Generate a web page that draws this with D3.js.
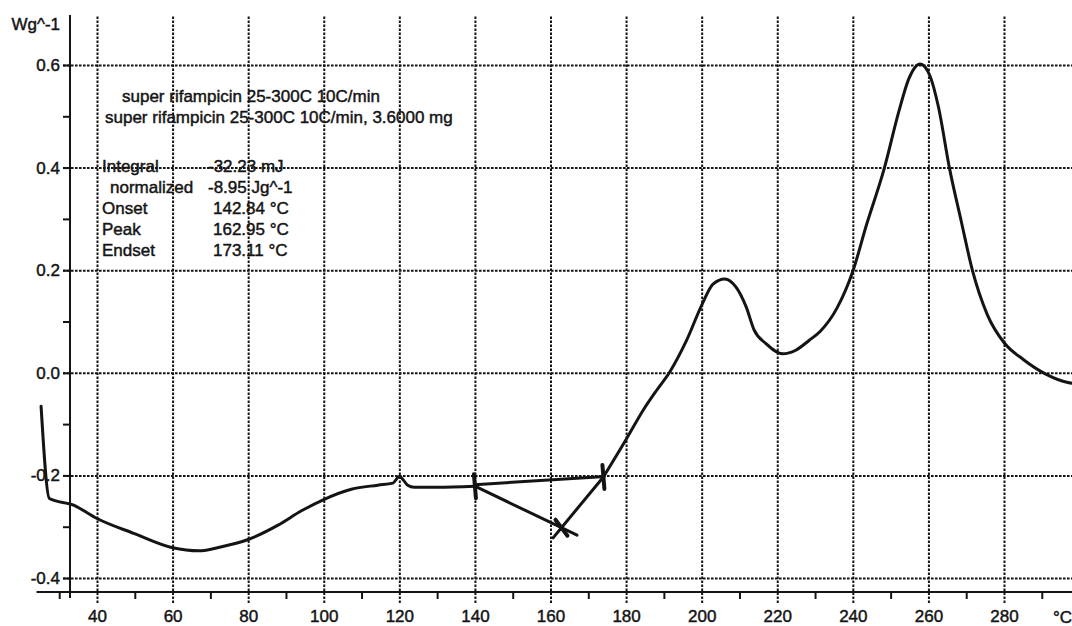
<!DOCTYPE html>
<html>
<head>
<meta charset="utf-8">
<script src="https://cdn.jsdelivr.net/npm/d3@7"></script>
<style>
  html, body { margin: 0; padding: 0; background: #fff; }
  svg { display: block; font-family: "Liberation Sans", Arial, sans-serif; }
</style>
</head>
<body>
<div id="chart"></div>
<script>
// DSC trace (temperature in °C, heat flow in W/g)
const curveT = [25.2, 27.4, 33.8, 40, 49.7, 60, 66.9, 73, 80, 87.9, 94.1, 100, 107.3, 114.3, 118.3, 120, 122.2, 123.9, 130,
  140, 162.9, 174,
  180, 184.6, 188.1, 191.6, 196, 200.2, 203, 206.1, 209.1, 211.8, 213.9, 217, 221.4, 224.9, 228.4, 231.4, 235.8,
  240, 243.6, 248.3, 252.2, 254.8, 257.8, 260.4, 262.6, 265.6, 268.7, 271.7, 275.6, 280.1, 285.1, 291.2, 296.9, 300];
const curveW = [-0.065, -0.245, -0.258, -0.284, -0.313, -0.341, -0.347, -0.339, -0.325, -0.297, -0.269, -0.247, -0.227, -0.219, -0.215, -0.202, -0.219, -0.223, -0.223,
  -0.221, -0.302, -0.203,
  -0.13, -0.072, -0.034, 0.002, 0.063, 0.135, 0.173, 0.183, 0.167, 0.128, 0.083, 0.057, 0.037, 0.044, 0.063, 0.081, 0.126,
  0.198, 0.288, 0.398, 0.51, 0.573, 0.602, 0.579, 0.52, 0.398, 0.295, 0.198, 0.113, 0.058, 0.026, -0.003, -0.019, -0.022];

// integration: onset, peak, endset and the baseline between onset and endset
const eventT = [140, 162.9, 174];
const eventW = [-0.221, -0.302, -0.203];
const baselineT = [140, 174.5];
const baselineW = [-0.218, -0.202];

const xTicks = [40, 60, 80, 100, 120, 140, 160, 180, 200, 220, 240, 260, 280];
const xMinor = [30, 50, 70, 90, 110, 130, 150, 170, 190, 210, 230, 250, 270, 290];
const yTicks = [0.6, 0.4, 0.2, 0, -0.2, -0.4];
const yMinor = [0.5, 0.3, 0.1, -0.1, -0.3];

const titleLines = ["super rifampicin 25-300C 10C/min", "super rifampicin 25-300C 10C/min, 3.6000 mg"];
const infoLabels = ["Integral", "normalized", "Onset", "Peak", "Endset"];
const infoValues = ["-32.23 mJ", "-8.95 Jg^-1", "142.84 °C", "162.95 °C", "173.11 °C"];

(function () {
  "use strict";

  const width = 1072;
  const height = 626;
  const ink = "#141414";
  const fontSize = 17;
  const axisX = 70;       // y axis position
  const axisY = 592;      // x axis position
  const plotTop = 15;
  const gridBottom = 603;

  const x = d3.scaleLinear().domain([40, 280]).range([97, 1004]);
  const y = d3.scaleLinear().domain([-0.4, 0.6]).range([578, 65]);

  const svg = d3.select("#chart").append("svg").attr("width", width).attr("height", height);
  svg.append("rect").attr("width", width).attr("height", height).attr("fill", "#fff");

  // scanned print: text slightly heavier than a plain regular face
  function inkText(sel) {
    sel.attr("fill", ink)
      .attr("stroke", ink)
      .attr("stroke-width", 0.45)
      .attr("font-size", fontSize);
  }

  function styleGrid(g) {
    g.select(".domain").remove();
    g.selectAll("line")
      .attr("stroke", ink)
      .attr("stroke-width", 2)
      .attr("stroke-dasharray", "2.6,1.4");
    g.selectAll("text").call(inkText);
  }

  // vertical grid + x labels
  svg.append("g")
    .attr("transform", "translate(0," + gridBottom + ")")
    .call(d3.axisBottom(x).tickValues(xTicks).tickSize(-(gridBottom - plotTop)).tickPadding(7).tickFormat(d3.format("d")))
    .call(styleGrid);

  // horizontal grid + y labels
  svg.append("g")
    .attr("transform", "translate(63,0)")
    .call(d3.axisLeft(y).tickValues(yTicks).tickSize(-(width - 63)).tickPadding(3)
      .tickFormat(function (d) { return d.toFixed(1); }))
    .call(styleGrid);

  // solid tick marks on both axes
  svg.append("g")
    .attr("transform", "translate(0," + axisY + ")")
    .call(d3.axisBottom(x).tickValues(xMinor).tickSize(7).tickFormat(""))
    .call(function (g) {
      g.select(".domain").remove();
      g.selectAll("line").attr("stroke", ink).attr("stroke-width", 2);
    });

  svg.append("g")
    .attr("transform", "translate(" + axisX + ",0)")
    .call(d3.axisLeft(y).tickValues(yTicks.concat(yMinor)).tickSize(7).tickFormat(""))
    .call(function (g) {
      g.select(".domain").remove();
      g.selectAll("line").attr("stroke", ink).attr("stroke-width", 2);
    });

  // axis lines
  svg.append("line")
    .attr("x1", x(24)).attr("x2", width)
    .attr("y1", axisY).attr("y2", axisY)
    .attr("stroke", ink).attr("stroke-width", 2);

  svg.append("line")
    .attr("x1", axisX).attr("x2", axisX)
    .attr("y1", plotTop).attr("y2", 598)
    .attr("stroke", ink).attr("stroke-width", 2);

  // axis units
  svg.append("text")
    .attr("x", 60).attr("y", 30)
    .attr("text-anchor", "end")
    .call(inkText)
    .text("Wg^-1");

  svg.append("text")
    .attr("x", 1053).attr("y", 623)
    .call(inkText)
    .text("°C");

  // header text
  svg.append("g")
    .selectAll("text")
    .data(titleLines)
    .enter()
    .append("text")
    .attr("x", function (_, i) { return i === 0 ? 122 : 105; })
    .attr("y", function (_, i) { return 102 + i * 21; })
    .call(inkText)
    .text(function (d) { return d; });

  // integration results table
  const info = svg.append("g");
  info.selectAll("text.lab")
    .data(infoLabels)
    .enter()
    .append("text")
    .attr("class", "lab")
    .attr("x", function (_, i) { return i === 1 ? 110 : 102; })
    .attr("y", function (_, i) { return 172 + i * 21; })
    .call(inkText)
    .text(function (d) { return d; });
  info.selectAll("text.val")
    .data(infoValues)
    .enter()
    .append("text")
    .attr("class", "val")
    .attr("x", function (_, i) { return i < 2 ? 208 : 213; })
    .attr("y", function (_, i) { return 172 + i * 21; })
    .call(inkText)
    .text(function (d) { return d; });

  // curve: smooth outside the integrated peak, straight through it
  const points = curveT.map(function (t, i) { return [t, curveW[i]]; });
  const smooth = d3.line()
    .x(function (d) { return x(d[0]); })
    .y(function (d) { return y(d[1]); })
    .curve(d3.curveMonotoneX);
  const straight = d3.line()
    .x(function (d) { return x(d[0]); })
    .y(function (d) { return y(d[1]); });

  const segments = [
    { data: points.filter(function (p) { return p[0] <= eventT[0]; }), line: smooth },
    { data: points.filter(function (p) { return p[0] >= eventT[0] && p[0] <= eventT[2]; }), line: straight },
    { data: points.filter(function (p) { return p[0] >= eventT[2]; }), line: smooth }
  ];

  svg.append("g")
    .selectAll("path")
    .data(segments)
    .enter()
    .append("path")
    .attr("d", function (s) { return s.line(s.data); })
    .attr("fill", "none")
    .attr("stroke", ink)
    .attr("stroke-width", 3)
    .attr("stroke-linejoin", "round")
    .attr("stroke-linecap", "round");

  // baseline between onset and endset
  svg.append("path")
    .attr("d", straight(baselineT.map(function (t, i) { return [t, baselineW[i]]; })))
    .attr("fill", "none")
    .attr("stroke", ink)
    .attr("stroke-width", 3);

  // peak cross: both legs run a little past the peak point
  const onset = [x(eventT[0]), y(eventW[0])];
  const peak = [x(eventT[1]), y(eventW[1])];
  const endset = [x(eventT[2]), y(eventW[2])];
  function extend(from, to, k) {
    return [[to[0], to[1]], [to[0] + (to[0] - from[0]) * k, to[1] + (to[1] - from[1]) * k]];
  }
  [extend(onset, peak, 0.18), extend(endset, peak, 0.2)].forEach(function (seg) {
    svg.append("line")
      .attr("x1", seg[0][0]).attr("y1", seg[0][1])
      .attr("x2", seg[1][0]).attr("y2", seg[1][1])
      .attr("stroke", ink).attr("stroke-width", 3).attr("stroke-linecap", "round");
  });

  // short marks at onset, peak and endset
  svg.append("g")
    .selectAll("line")
    .data(eventT)
    .enter()
    .append("line")
    .attr("x1", function (t, i) { return x(t) + (i === 1 ? -6 : -1); })
    .attr("x2", function (t, i) { return x(t) + (i === 1 ? 6 : 1); })
    .attr("y1", function (_, i) { return y(eventW[i]) - (i === 1 ? 8 : 12); })
    .attr("y2", function (_, i) { return y(eventW[i]) + (i === 1 ? 8 : 12); })
    .attr("stroke", ink)
    .attr("stroke-width", 4)
    .attr("stroke-linecap", "round");
})();
</script>
</body>
</html>
